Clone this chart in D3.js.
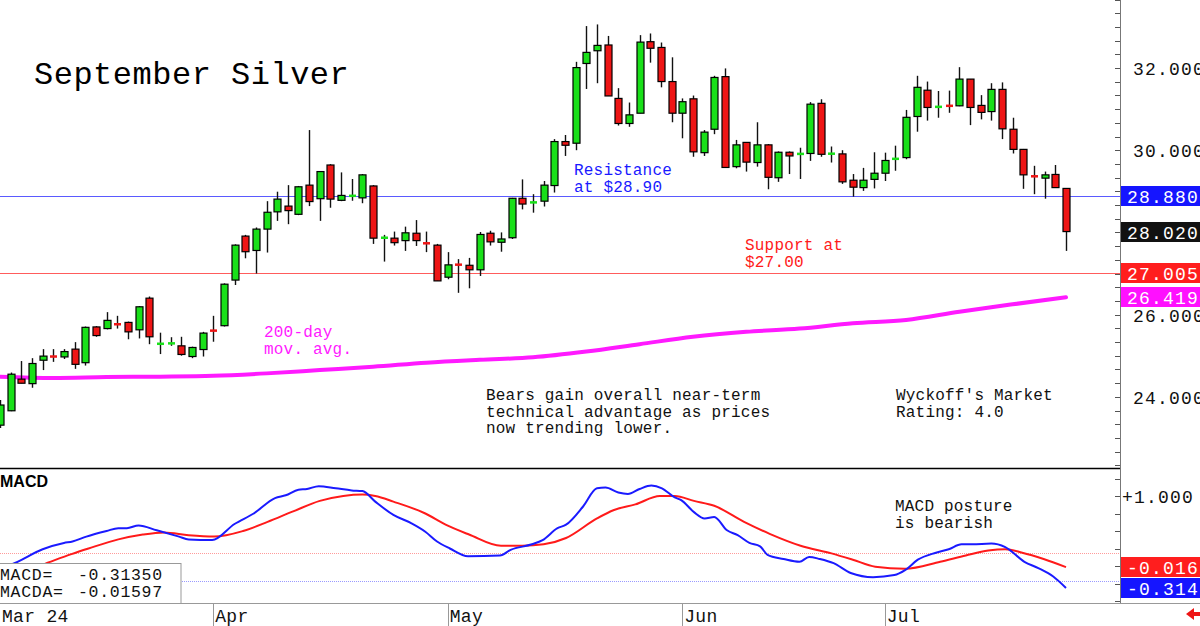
<!DOCTYPE html>
<html>
<head>
<meta charset="utf-8">
<script src="https://cdn.jsdelivr.net/npm/d3@7"></script>
<style>
body { margin: 0; background: #fff; }
svg { display: block; font-family: "Liberation Mono", "DejaVu Sans Mono", monospace; }
</style>
</head>
<body>
<svg id="chart" width="1200" height="626"></svg>
<script>
'use strict';

// Daily candles, Mar 1 .. Jul 25 (trading days).
var opens = [23.31, 23.66, 24.43, 24.32, 24.89, 25.01, 24.97, 25.16, 24.83, 25.70,
	25.66, 25.79, 25.81, 25.63, 26.40, 25.28, 25.29, 25.24, 24.98, 25.15,
	25.64, 25.73, 26.84, 27.91, 27.56, 28.08, 28.50, 28.64, 28.44, 29.15,
	28.82, 29.64, 28.78, 28.88, 28.84, 29.13, 27.86, 27.86, 27.80, 27.98,
	27.75, 27.69, 26.91, 27.23, 27.20, 27.09, 27.98, 27.76, 27.87, 28.83,
	28.72, 28.76, 29.14, 30.21, 30.17, 32.11, 32.42, 32.56, 31.26, 30.65,
	30.90, 32.64, 32.50, 31.67, 30.90, 31.25, 29.94, 30.51, 31.79, 29.60,
	30.19, 29.70, 30.13, 29.33, 29.95, 29.90, 29.92, 31.14, 29.90, 29.91,
	29.27, 29.09, 29.29, 29.44, 29.78, 29.82, 30.82, 31.46, 31.02, 31.09,
	31.08, 31.73, 31.09, 30.94, 31.48, 30.51, 30.02, 29.40, 29.32, 29.41,
	29.07];
var highs = [23.92, 24.59, 24.87, 24.94, 25.16, 25.16, 25.16, 25.33, 25.71, 25.72,
	26.06, 25.97, 25.83, 26.21, 26.44, 25.56, 25.45, 25.46, 25.22, 25.58,
	25.97, 26.76, 27.71, 27.94, 28.12, 28.76, 28.99, 29.15, 29.13, 30.49,
	29.49, 29.66, 29.46, 29.30, 29.42, 29.15, 27.94, 28.02, 28.14, 28.30,
	28.02, 27.72, 27.52, 27.35, 27.38, 28.01, 28.04, 28.00, 28.84, 29.29,
	28.93, 29.25, 30.27, 30.37, 32.15, 33.02, 33.06, 32.78, 31.51, 31.16,
	32.80, 32.84, 32.62, 32.26, 31.26, 31.33, 30.49, 31.81, 31.99, 30.25,
	30.20, 30.68, 30.15, 29.97, 29.97, 30.06, 31.17, 31.24, 30.09, 30.00,
	29.42, 29.57, 29.95, 29.94, 30.11, 30.98, 31.81, 31.67, 31.44, 31.45,
	32.02, 31.73, 31.34, 31.63, 31.65, 30.79, 30.03, 29.62, 29.48, 29.64,
	29.08];
var lows = [23.24, 23.65, 24.33, 24.22, 24.65, 24.85, 24.92, 24.68, 24.76, 25.46,
	25.64, 25.66, 25.40, 25.42, 25.28, 25.04, 25.24, 25.00, 24.94, 24.98,
	25.34, 25.71, 26.72, 27.37, 27.00, 27.51, 28.28, 28.20, 28.42, 28.64,
	28.28, 28.60, 28.76, 28.77, 28.71, 27.72, 27.29, 27.68, 27.55, 27.67,
	27.52, 26.82, 26.86, 26.53, 26.64, 26.94, 27.68, 27.53, 27.84, 28.56,
	28.48, 28.63, 28.97, 29.86, 30.00, 31.49, 31.63, 31.32, 30.60, 30.57,
	30.90, 32.13, 31.53, 30.68, 30.29, 29.84, 29.86, 30.39, 29.57, 29.56,
	29.48, 29.60, 29.05, 29.23, 29.42, 29.30, 29.74, 29.84, 29.70, 29.18,
	28.87, 29.01, 29.07, 29.25, 29.50, 29.78, 30.45, 30.72, 30.79, 30.91,
	31.07, 30.61, 30.75, 30.72, 30.27, 29.92, 29.06, 28.93, 28.82, 29.08,
	27.55];
var closes = [23.80, 24.55, 24.33, 24.81, 24.99, 24.95, 25.10, 24.79, 25.69, 25.49,
	25.86, 25.74, 25.58, 26.19, 25.46, 25.30, 25.31, 25.03, 25.20, 25.55,
	25.58, 26.74, 27.69, 27.53, 28.08, 28.49, 28.81, 28.53, 29.11, 28.75,
	29.48, 28.81, 28.90, 28.90, 29.40, 27.86, 27.88, 27.75, 27.99, 27.80,
	27.72, 26.82, 27.21, 27.20, 27.09, 27.95, 27.77, 27.84, 28.83, 28.69,
	28.74, 29.15, 30.21, 30.12, 32.01, 32.38, 32.55, 31.32, 30.65, 30.86,
	32.63, 32.48, 31.67, 30.90, 31.18, 29.96, 30.44, 31.77, 29.58, 30.13,
	29.71, 30.13, 29.34, 29.95, 29.86, 29.92, 31.12, 29.90, 29.93, 29.23,
	29.10, 29.27, 29.44, 29.75, 29.80, 30.80, 31.53, 31.04, 31.09, 31.07,
	31.73, 31.04, 30.92, 31.48, 30.52, 30.02, 29.40, 29.33, 29.40, 29.09,
	28.02];

// 200-day moving average, sampled every 5 sessions.
var maIndex = [0, 5, 10, 15, 20, 25, 30, 35, 40, 45, 50, 55, 60, 65, 70, 75, 80, 85, 90, 95, 100];
var maValues = [24.49, 24.46, 24.48, 24.49, 24.51, 24.57, 24.65, 24.73, 24.83, 24.90,
	24.96, 25.10, 25.28, 25.46, 25.58, 25.66, 25.79, 25.87, 26.07, 26.25, 26.42];

// MACD (blue) and MACDA (red) as [session, value].
var macdLine = [[0, -0.02], [1, 0.02], [4, 0.24], [6, 0.33], [6.8, 0.35], [8.1, 0.42], [10, 0.50],
	[11.1, 0.54], [11.9, 0.54], [13, 0.58], [14.7, 0.51], [16.8, 0.42], [17.7, 0.38], [19.9, 0.37],
	[22, 0.60], [23.8, 0.75], [25.8, 0.97], [26.8, 1.01], [28, 1.09], [28.8, 1.10], [29.9, 1.14],
	[31.5, 1.11], [33, 1.08], [34, 1.07], [35.2, 0.92], [36.9, 0.73], [38.6, 0.61], [39.9, 0.49],
	[41, 0.35], [42.2, 0.25], [43.9, 0.14], [46.9, 0.15], [47.9, 0.23], [49.9, 0.31], [50.9, 0.37],
	[52.3, 0.54], [53.1, 0.59], [54.7, 0.85], [56, 1.11], [56.8, 1.12], [58, 1.05], [58.9, 1.03],
	[60, 1.10], [61.1, 1.15], [62.1, 1.11], [63.3, 0.98], [63.9, 0.94], [65.1, 0.77], [66.1, 0.68],
	[67, 0.70], [68.2, 0.51], [69.2, 0.44], [70.3, 0.33], [71.3, 0.28], [72, 0.16], [73.5, 0.10],
	[75, 0.06], [75.9, 0.13], [76.9, 0.10], [78.2, 0.04], [79.8, -0.10], [81.9, -0.16], [83.9, -0.13],
	[84.9, -0.06], [86.1, 0.09], [87.8, 0.19], [89, 0.24], [90.2, 0.31], [91.2, 0.31], [93, 0.32],
	[94.3, 0.27], [96.1, 0.06], [97.4, -0.03], [98.8, -0.15], [100, -0.3135]];
var signalLine = [[0, -0.19], [4, 0.02], [6.7, 0.17], [8.3, 0.25], [11.1, 0.38], [13.4, 0.45],
	[15.4, 0.48], [17.7, 0.44], [20.1, 0.42], [22.8, 0.50], [25.1, 0.63], [27.5, 0.78], [30, 0.93],
	[32.2, 1.00], [34, 1.02], [35.2, 1.00], [36.9, 0.92], [39.9, 0.75], [41.8, 0.59], [44, 0.45],
	[47, 0.29], [49, 0.29], [51, 0.31], [53.1, 0.40], [56, 0.68], [57.6, 0.80], [59.6, 0.88],
	[61.9, 1.00], [63.3, 1.00], [65.1, 0.93], [67, 0.86], [69.8, 0.63], [72.2, 0.46], [75.1, 0.29],
	[78, 0.18], [80, 0.09], [82.1, -0.01], [84.9, -0.04], [88.2, 0.06], [90.6, 0.15], [92.7, 0.22],
	[94.3, 0.24], [95.9, 0.19], [97.9, 0.10], [100, -0.016]];

var monthLabels = ['Mar 24', 'Apr', 'May', 'Jun', 'Jul'];
var monthStarts = [0, 20, 42, 64, 83];
var priceTicks = [24, 26, 30, 32];
var macdTicks = [1];

// Value boxes on the right axis: [value, text, colour].
var priceFlags = [[28.88, '28.880', '#1515ff'], [28.02, '28.020', '#111111'],
	[27.005, '27.005', '#ff1e1e'], [26.419, '26.419', '#ff10ff']];
var macdFlags = [[-0.016, '-0.016', '#ff1e1e'], [-0.3135, '-0.314', '#1515ff']];



var green = '#19e019';
var red = '#ee1515';
var axisX = 1120;

var svg = d3.select('#chart');

var x = d3.scaleLinear().domain([0, 100]).range([0, 1066]);
var y = d3.scaleLinear().domain([24, 32]).range([396.8, 68]);
var ym = d3.scaleLinear().domain([0, 1]).range([566, 496]);

// Panel frame
svg.append('line').attr('x1', 0).attr('x2', axisX).attr('y1', 468.5).attr('y2', 468.5)
	.attr('stroke', '#000').attr('stroke-width', 1.5);
svg.append('line').attr('x1', 0).attr('x2', 1200).attr('y1', 603.5).attr('y2', 603.5)
	.attr('stroke', '#999');
svg.append('line').attr('x1', axisX + 0.5).attr('x2', axisX + 0.5).attr('y1', 0).attr('y2', 603)
	.attr('stroke', '#777');

// Minor ticks on the right axis
var priceMinor = d3.range(67, 102).map(function(k) { return k / 3; });
svg.append('g').selectAll('line').data(priceMinor).enter().append('line')
	.attr('x1', axisX - 5).attr('x2', axisX)
	.attr('y1', function(d) { return Math.round(y(d)) + 0.5; })
	.attr('y2', function(d) { return Math.round(y(d)) + 0.5; })
	.attr('stroke', '#555');
var macdMinor = d3.range(-2, 6).map(function(k) { return k / 4; });
svg.append('g').selectAll('line').data(macdMinor).enter().append('line')
	.attr('x1', axisX - 5).attr('x2', axisX)
	.attr('y1', function(d) { return Math.round(ym(d)) + 0.5; })
	.attr('y2', function(d) { return Math.round(ym(d)) + 0.5; })
	.attr('stroke', '#555');

// Support / resistance lines
svg.append('line').attr('x1', 0).attr('x2', axisX).attr('y1', Math.round(y(28.88)) + 0.5)
	.attr('y2', Math.round(y(28.88)) + 0.5).attr('stroke', '#5a5aff');
svg.append('line').attr('x1', 0).attr('x2', axisX).attr('y1', Math.round(y(27.005)) + 0.5)
	.attr('y2', Math.round(y(27.005)) + 0.5).attr('stroke', '#ff5c5c');

// MACD reference lines (dotted)
svg.append('line').attr('x1', 0).attr('x2', axisX).attr('y1', Math.round(ym(0.186)) + 0.5)
	.attr('y2', Math.round(ym(0.186)) + 0.5).attr('stroke', '#ff9a9a').attr('stroke-dasharray', '1,1');
svg.append('line').attr('x1', 0).attr('x2', axisX).attr('y1', Math.round(ym(-0.214)) + 0.5)
	.attr('y2', Math.round(ym(-0.214)) + 0.5).attr('stroke', '#9a9aff').attr('stroke-dasharray', '1,1');

// 200-day moving average
var maPoints = maIndex.map(function(d, k) { return [d, maValues[k]]; });
svg.append('path').datum(maPoints)
	.attr('d', d3.line().x(function(d) { return x(d[0]); }).y(function(d) { return y(d[1]); })
		.curve(d3.curveMonotoneX))
	.attr('fill', 'none').attr('stroke', '#ff1aff').attr('stroke-width', 4)
	.attr('stroke-linecap', 'round');

// Candles
var candles = opens.map(function(o, i) {
	return {i: i, o: o, h: highs[i], l: lows[i], c: closes[i]};
});
var cg = svg.append('g').attr('class', 'candles');
cg.selectAll('line').data(candles).enter().append('line')
	.attr('x1', function(d) { return Math.round(x(d.i)) + 0.5; })
	.attr('x2', function(d) { return Math.round(x(d.i)) + 0.5; })
	.attr('y1', function(d) { return y(d.h); })
	.attr('y2', function(d) { return y(d.l); })
	.attr('stroke', '#111').attr('stroke-width', 1.4);
cg.selectAll('rect').data(candles).enter().append('rect')
	.each(function(d) {
		var top = Math.min(y(d.o), y(d.c));
		var h = Math.abs(y(d.o) - y(d.c));
		var sel = d3.select(this)
			.attr('x', Math.round(x(d.i)) - 3)
			.attr('width', 7)
			.attr('fill', d.c >= d.o ? green : red);
		if (h < 3) {
			// doji: flat coloured dash, no outline
			sel.attr('y', top + h / 2 - 1.25).attr('height', 2.5).attr('stroke', 'none');
		} else {
			sel.attr('y', top).attr('height', h).attr('stroke', '#000').attr('stroke-width', 1.2);
		}
	});

// MACD lines
var macdPath = d3.line().x(function(d) { return x(d[0]); }).y(function(d) { return ym(d[1]); })
	.curve(d3.curveMonotoneX);
svg.append('path').datum(signalLine).attr('d', macdPath)
	.attr('fill', 'none').attr('stroke', '#ff1a1a').attr('stroke-width', 2);
svg.append('path').datum(macdLine).attr('d', macdPath)
	.attr('fill', 'none').attr('stroke', '#1a1aff').attr('stroke-width', 2);

// Right axis labels
svg.append('g').selectAll('text').data(priceTicks).enter().append('text')
	.attr('x', 1133).attr('y', function(d) { return y(d) + 7; })
	.attr('font-size', 18).attr('letter-spacing', 1.2).attr('fill', '#111')
	.text(function(d) { return d3.format('.3f')(d); });
svg.append('g').selectAll('text').data(macdTicks).enter().append('text')
	.attr('x', 1122).attr('y', function(d) { return ym(d) + 7; })
	.attr('font-size', 18).attr('letter-spacing', 1.2).attr('fill', '#111')
	.text(function(d) { return '+' + d3.format('.3f')(d); });

function flag(scale, d) {
	var cy = Math.round(scale(d[0]));
	var g = svg.append('g');
	g.append('rect').attr('x', 1121).attr('y', cy - 10).attr('width', 79).attr('height', 20)
		.attr('fill', d[2]);
	g.append('text').attr('x', 1127).attr('y', cy + 7).attr('font-size', 18)
		.attr('letter-spacing', 1.2).attr('fill', '#fff').text(d[1]);
}
priceFlags.forEach(function(d) { flag(y, d); });
macdFlags.forEach(function(d) { flag(ym, d); });

// Title and notes
svg.append('text').attr('x', 34).attr('y', 84).attr('font-size', 32).attr('letter-spacing', 0.5)
	.attr('fill', '#000').text('September Silver');

function note(lines, px, py, colour, size) {
	var t = svg.append('text').attr('x', px).attr('y', py).attr('font-size', size || 16)
		.attr('letter-spacing', 0.2).attr('fill', colour);
	lines.forEach(function(s, k) {
		t.append('tspan').attr('x', px).attr('dy', k === 0 ? 0 : 16.5).text(s);
	});
}
note(['Resistance', 'at $28.90'], 574, 175, '#1a1aff');
note(['Support at', '$27.00'], 745, 250, '#ff1a1a');
note(['200-day', 'mov. avg.'], 264, 337, '#ff1aff');
note(['Bears gain overall near-term', 'technical advantage as prices', 'now trending lower.'], 486, 400, '#111');
note(["Wyckoff's Market", 'Rating: 4.0'], 896, 400, '#111');
note(['MACD posture', 'is bearish'], 895, 511, '#111');

svg.append('text').attr('x', 0).attr('y', 487).attr('font-size', 16).attr('font-weight', 'bold')
	.attr('font-family', 'Liberation Sans, Arial, sans-serif').text('MACD');

// MACD read-out box
var box = svg.append('g').attr('font-size', 16.5).attr('letter-spacing', 0.7).attr('fill', '#111');
box.append('rect').attr('x', -1).attr('y', 563.5).attr('width', 182).attr('height', 40)
	.attr('fill', '#fff').attr('stroke', '#999');
box.append('text').attr('x', 0).attr('y', 580).text('MACD=');
box.append('text').attr('x', 78).attr('y', 580).text('-0.31350');
box.append('text').attr('x', 0).attr('y', 597).text('MACDA=');
box.append('text').attr('x', 78).attr('y', 597).text('-0.01597');

// Month axis
var mg = svg.append('g');
mg.selectAll('line').data(monthStarts.slice(1)).enter().append('line')
	.attr('x1', function(d) { return Math.round(x(d)) + 0.5; })
	.attr('x2', function(d) { return Math.round(x(d)) + 0.5; })
	.attr('y1', 604).attr('y2', 626).attr('stroke', '#999');
mg.selectAll('text').data(monthStarts).enter().append('text')
	.attr('x', function(d) { return x(d) + 2; }).attr('y', 622)
	.attr('font-size', 18).attr('letter-spacing', 0.3).attr('fill', '#111')
	.text(function(d, k) { return monthLabels[k]; });

// little scroll arrow, bottom right
svg.append('path').attr('d', 'M1186,614 L1194,608 L1194,612 L1200,612 L1200,616 L1194,616 L1194,620 Z')
	.attr('fill', '#ee1515');
</script>
</body>
</html>
